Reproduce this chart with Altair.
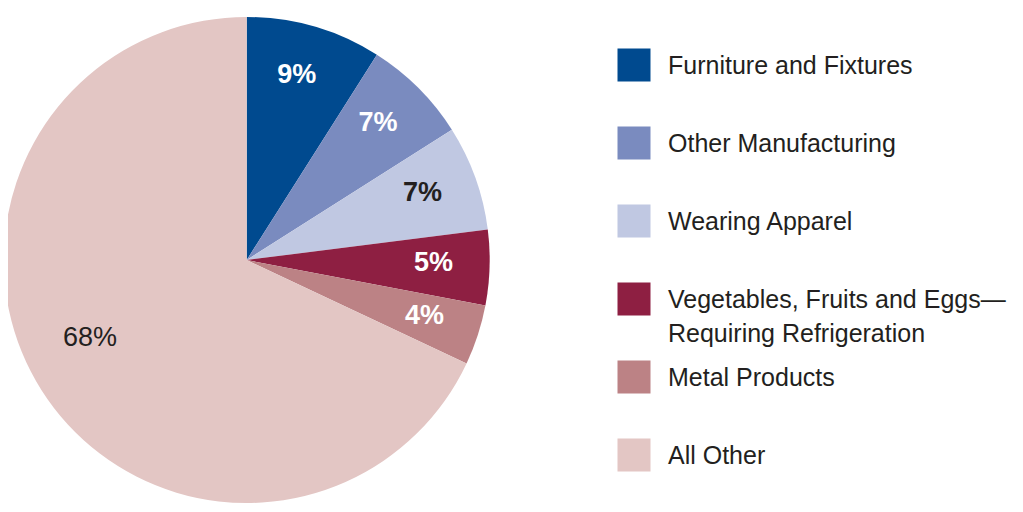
import altair as alt
import pandas as pd

categories = ["Furniture and Fixtures", "Other Manufacturing", "Wearing Apparel",
              "Vegetables, Fruits and Eggs—Requiring Refrigeration", "Metal Products", "All Other"]
legend_labels = ["Furniture and Fixtures", "Other Manufacturing", "Wearing Apparel",
                 "Vegetables, Fruits and Eggs—\nRequiring Refrigeration", "Metal Products", "All Other"]
shares = [9, 7, 7, 5, 4, 68]
colors = ["#004a8f", "#7a8bbf", "#c0c8e2", "#8e1f42", "#bc8285", "#e3c6c4"]

FONT = "Liberation Sans"
DARK = "#231f20"
CX, CY = 238.7, 252

df = pd.DataFrame({
    "category": categories,
    "legend": legend_labels,
    "share": shares,
    "order": list(range(len(categories))),
    "pct": [f"{v}%" for v in shares],
})

cscale = alt.Scale(domain=categories, range=colors)
yscale = alt.Scale(type="point", domain=categories, range=[57, 447], padding=0)

base = alt.Chart(df)

theta = alt.Theta("share:Q", stack=True)
order = alt.Order("order:Q")

pie = base.mark_arc(outerRadius=243).encode(
    theta=theta, order=order,
    color=alt.Color("category:N", scale=cscale, legend=None),
    x=alt.value(CX), y=alt.value(CY),
)

labels_bold = base.transform_calculate(
    lab="datum.category != 'All Other' ? datum.pct : ''"
).mark_text(radius=190, fontSize=27, fontWeight="bold", font=FONT, dx=-3, dy=-3).encode(
    theta=theta, order=order,
    text=alt.Text("lab:N"),
    color=alt.condition(alt.datum.category == "Wearing Apparel", alt.value(DARK), alt.value("#ffffff")),
    x=alt.value(CX), y=alt.value(CY),
)

labels_other = base.transform_calculate(
    lab="datum.category == 'All Other' ? datum.pct : ''"
).mark_text(radius=175, fontSize=27, font=FONT, color=DARK, dx=-9, dy=-16).encode(
    theta=theta, order=order,
    text=alt.Text("lab:N"),
    x=alt.value(CX), y=alt.value(CY),
)

squares = base.mark_square(size=1089, opacity=1).encode(
    x=alt.value(626),
    y=alt.Y("category:N", sort=categories, scale=yscale, axis=None),
    color=alt.Color("category:N", scale=cscale, legend=None),
)

legend_text = base.mark_text(
    align="left", baseline="alphabetic", dy=9, fontSize=25, lineBreak="\n",
    lineHeight=34, font=FONT, color=DARK,
).encode(
    x=alt.value(660),
    y=alt.Y("category:N", sort=categories, scale=yscale, axis=None),
    text=alt.Text("legend:N"),
)

chart = alt.layer(pie, labels_bold, labels_other, squares, legend_text).properties(
    width=1007, height=496, autosize="none", padding=0
).configure_view(stroke=None)

chart.save("out.html", embed_options={"renderer": "svg", "actions": False})
